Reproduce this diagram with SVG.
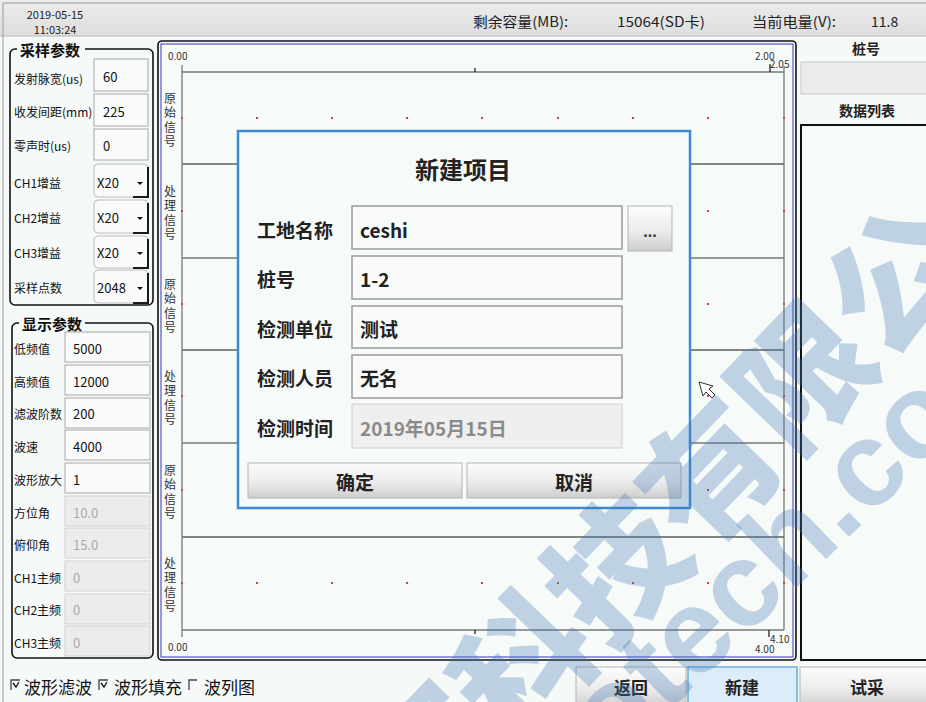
<svg xmlns="http://www.w3.org/2000/svg" width="926" height="702" viewBox="0 0 926 702">
<defs>
<linearGradient id="btn" x1="0" y1="0" x2="0" y2="1"><stop offset="0" stop-color="#fcfcfc"/><stop offset="0.55" stop-color="#ececec"/><stop offset="1" stop-color="#cdcdcd"/></linearGradient>
<linearGradient id="top" x1="0" y1="0" x2="0" y2="1"><stop offset="0" stop-color="#ececec"/><stop offset="1" stop-color="#dedede"/></linearGradient>
</defs>
<style>
text{font-family:'Noto Sans CJK SC','Noto Sans',sans-serif;dominant-baseline:central}
.lbl{font-size:12px;fill:#111}
.val{font-size:13px;fill:#111}
.dis{font-size:13px;fill:#aaa}
.box{fill:#f9fbfa;stroke:#a8a8a8;stroke-width:1}
.dbox{fill:#ececec;stroke:#d2d2d2;stroke-width:1}
.cmb{fill:#f9fbfa;stroke:#bdbdbd;stroke-width:1}
.cms{fill:none;stroke:#1a1a1a;stroke-width:2}
.arr{fill:#111}
.grp{fill:none;stroke:#111;stroke-width:1.6}
.gt{font-size:15px;font-weight:bold;fill:#111}
.cl{font-size:12px;fill:#333;text-anchor:middle;writing-mode:vertical-rl;letter-spacing:2.5px}
.ax{font-size:10px;fill:#333}
.gl{stroke:#777;stroke-width:1.3}
.bl{stroke:#111;stroke-width:1.2}
.dot{fill:#e03a3a}
.dl{font-size:19px;font-weight:bold;fill:#222}
.din{fill:#f8fbfa;stroke:#9a9a9a;stroke-width:1.5}
.btn{fill:url(#btn);stroke:#b4b4b4;stroke-width:1}
.bt{font-size:19px;font-weight:bold;fill:#222;text-anchor:middle}
.bb{font-size:17px;font-weight:bold;fill:#222;text-anchor:middle}
.tb{font-size:14px;fill:#222}
.ck{font-size:17px;fill:#111}
.wm{fill:#3f78b4;opacity:0.3}
</style>
<rect x="0" y="0" width="926" height="702" fill="#f5f9f8"/>

<g id="topbar">
<rect x="0" y="0" width="926" height="36" fill="url(#top)"/>
<line x1="0" y1="36" x2="926" y2="36" stroke="#b8b8b8" stroke-width="1"/>
<line x1="3" y1="3" x2="926" y2="3" stroke="#9a9a9a" stroke-width="1"/>
<text x="55" y="14" font-size="11" fill="#222" text-anchor="middle">2019-05-15</text>
<text x="55" y="29" font-size="11" fill="#222" text-anchor="middle">11:03:24</text>
<text class="tb" x="473" y="21" textLength="95" lengthAdjust="spacingAndGlyphs">剩余容量(MB):</text>
<text class="tb" x="617" y="21" textLength="88" lengthAdjust="spacingAndGlyphs">15064(SD卡)</text>
<text class="tb" x="752" y="21" textLength="84" lengthAdjust="spacingAndGlyphs">当前电量(V):</text>
<text class="tb" x="871" y="21">11.8</text>
</g>
<line x1="3" y1="3" x2="3" y2="702" stroke="#9a9a9a" stroke-width="1"/>

<g id="sampling-params">
<rect class="grp" x="10" y="49" width="143" height="256" rx="5"/>
<rect x="17" y="40" width="68" height="18" fill="#f5f9f8"/>
<text class="gt" x="20" y="49">采样参数</text>
<text class="lbl" x="14" y="78">发射脉宽(us)</text>
<rect class="box" x="94" y="59" width="54" height="32"/><text class="val" x="103" y="76">60</text>
<text class="lbl" x="14" y="111">收发间距(mm)</text>
<rect class="box" x="94" y="94" width="54" height="32"/><text class="val" x="103" y="111">225</text>
<text class="lbl" x="14" y="145">零声时(us)</text>
<rect class="box" x="94" y="129" width="54" height="31"/><text class="val" x="103" y="145">0</text>
<text class="lbl" x="14" y="182">CH1增益</text>
<rect class="cmb" x="94" y="164" width="54" height="33" rx="4"/><path class="cms" d="M148 167 V197 H133"/><text class="val" x="97" y="182">X20</text><path class="arr" d="M137 182 h6 l-3 3 z"/>
<text class="lbl" x="14" y="217">CH2增益</text>
<rect class="cmb" x="94" y="200" width="54" height="33" rx="4"/><path class="cms" d="M148 203 V233 H133"/><text class="val" x="97" y="217">X20</text><path class="arr" d="M137 217 h6 l-3 3 z"/>
<text class="lbl" x="14" y="252">CH3增益</text>
<rect class="cmb" x="94" y="236" width="54" height="32" rx="4"/><path class="cms" d="M148 239 V268 H133"/><text class="val" x="97" y="252">X20</text><path class="arr" d="M137 252 h6 l-3 3 z"/>
<text class="lbl" x="14" y="287">采样点数</text>
<rect class="cmb" x="94" y="270" width="54" height="33" rx="4"/><path class="cms" d="M148 273 V303 H133"/><text class="val" x="97" y="287">2048</text><path class="arr" d="M137 287 h6 l-3 3 z"/>
</g>

<g id="display-params">
<rect class="grp" x="12" y="323" width="141" height="335" rx="5"/>
<rect x="19" y="314" width="66" height="18" fill="#f5f9f8"/>
<text class="gt" x="22" y="323">显示参数</text>
<text class="lbl" x="14" y="348">低频值</text><rect class="box" x="65" y="332" width="85" height="30"/><text class="val" x="73" y="348">5000</text>
<text class="lbl" x="14" y="381">高频值</text><rect class="box" x="65" y="365" width="85" height="30"/><text class="val" x="73" y="381">12000</text>
<text class="lbl" x="14" y="413">滤波阶数</text><rect class="box" x="65" y="398" width="85" height="30"/><text class="val" x="73" y="413">200</text>
<text class="lbl" x="14" y="446">波速</text><rect class="box" x="65" y="430" width="85" height="30"/><text class="val" x="73" y="446">4000</text>
<text class="lbl" x="14" y="479">波形放大</text><rect class="box" x="65" y="463" width="85" height="30"/><text class="val" x="73" y="479">1</text>
<text class="lbl" x="14" y="512">方位角</text><rect class="dbox" x="65" y="496" width="85" height="30"/><text class="dis" x="73" y="512">10.0</text>
<text class="lbl" x="14" y="544">俯仰角</text><rect class="dbox" x="65" y="528" width="85" height="30"/><text class="dis" x="73" y="544">15.0</text>
<text class="lbl" x="14" y="577">CH1主频</text><rect class="dbox" x="65" y="561" width="85" height="30"/><text class="dis" x="73" y="577">0</text>
<text class="lbl" x="14" y="609">CH2主频</text><rect class="dbox" x="65" y="594" width="85" height="30"/><text class="dis" x="73" y="609">0</text>
<text class="lbl" x="14" y="642">CH3主频</text><rect class="dbox" x="65" y="626" width="85" height="30"/><text class="dis" x="73" y="642">0</text>
</g>

<g id="chart">
<rect x="158" y="41" width="638" height="619" rx="4" fill="#f6faf9" stroke="#111" stroke-width="1.6"/>
<rect x="161" y="44" width="632" height="613" fill="none" stroke="#3434c4" stroke-width="1"/>
<text class="ax" x="168" y="55">0.00</text>
<text class="ax" x="168" y="646">0.00</text>
<text class="ax" x="755" y="55">2.00</text>
<text class="ax" x="770" y="63">2.05</text>
<text class="ax" x="770" y="638">4.10</text>
<text class="ax" x="755" y="648">4.00</text>
<line class="gl" x1="182" y1="72" x2="784" y2="72"/>
<line class="bl" x1="182" y1="164" x2="784" y2="164"/>
<line class="gl" x1="182" y1="258" x2="784" y2="258"/>
<line class="bl" x1="182" y1="350" x2="784" y2="350"/>
<line class="gl" x1="182" y1="443" x2="784" y2="443"/>
<line class="bl" x1="182" y1="537" x2="784" y2="537"/>
<line class="gl" x1="182" y1="630" x2="784" y2="630"/>
<line class="gl" x1="182" y1="65" x2="182" y2="637"/>
<line class="gl" x1="784" y1="66" x2="784" y2="630"/>
<line class="bl" x1="475" y1="68" x2="475" y2="72"/>
<line class="bl" x1="770" y1="64" x2="770" y2="72"/>
<line class="bl" x1="475" y1="630" x2="475" y2="634"/>
<line class="bl" x1="769" y1="630" x2="769" y2="637"/>
<text class="cl" x="170" y="121">原始信号</text>
<text class="cl" x="170" y="214">处理信号</text>
<text class="cl" x="170" y="307">原始信号</text>
<text class="cl" x="170" y="399">处理信号</text>
<text class="cl" x="170" y="493">原始信号</text>
<text class="cl" x="170" y="586">处理信号</text>
<g class="dot">
<rect x="181" y="117" width="2" height="2"/><rect x="256" y="117" width="2" height="2"/><rect x="331" y="117" width="2" height="2"/><rect x="406" y="117" width="2" height="2"/><rect x="481" y="117" width="2" height="2"/><rect x="557" y="117" width="2" height="2"/><rect x="632" y="117" width="2" height="2"/><rect x="707" y="117" width="2" height="2"/><rect x="783" y="117" width="2" height="2"/>
<rect x="181" y="210" width="2" height="2"/><rect x="707" y="210" width="2" height="2"/><rect x="783" y="210" width="2" height="2"/>
<rect x="181" y="303" width="2" height="2"/><rect x="707" y="303" width="2" height="2"/><rect x="783" y="303" width="2" height="2"/>
<rect x="181" y="395" width="2" height="2"/><rect x="707" y="395" width="2" height="2"/><rect x="783" y="395" width="2" height="2"/>
<rect x="181" y="489" width="2" height="2"/><rect x="707" y="489" width="2" height="2"/><rect x="783" y="489" width="2" height="2"/>
<rect x="181" y="582" width="2" height="2"/><rect x="256" y="582" width="2" height="2"/><rect x="331" y="582" width="2" height="2"/><rect x="406" y="582" width="2" height="2"/><rect x="481" y="582" width="2" height="2"/><rect x="557" y="582" width="2" height="2"/><rect x="632" y="582" width="2" height="2"/><rect x="707" y="582" width="2" height="2"/><rect x="783" y="582" width="2" height="2"/>
</g>
</g>

<g id="right-panel">
<text x="866" y="48" font-size="14" font-weight="bold" fill="#222" text-anchor="middle">桩号</text>
<rect x="801" y="62" width="130" height="32" fill="#ececec" stroke="#c8c8c8" stroke-width="1"/>
<text x="867" y="110" font-size="14" font-weight="bold" fill="#222" text-anchor="middle">数据列表</text>
<rect x="801" y="125" width="130" height="535" fill="#f6faf9" stroke="#111" stroke-width="2"/>
</g>

<g id="bottom-bar">
<path d="M11 690 V680 H20" fill="none" stroke="#444" stroke-width="1.3"/><path d="M13 683 l3 4 l3 -5" fill="none" stroke="#111" stroke-width="1.3"/>
<text class="ck" x="24" y="686">波形滤波</text>
<path d="M99 690 V680 H108" fill="none" stroke="#444" stroke-width="1.3"/><path d="M101 683 l3 4 l3 -5" fill="none" stroke="#111" stroke-width="1.3"/>
<text class="ck" x="114" y="686">波形填充</text>
<path d="M189 690 V680 H197" fill="none" stroke="#444" stroke-width="1.3"/>
<text class="ck" x="204" y="686">波列图</text>
<rect class="btn" x="576" y="667" width="110" height="40"/>
<text class="bb" x="631" y="686">返回</text>
<rect x="688" y="667" width="109" height="40" fill="#dcecf8" stroke="#6aaee0" stroke-width="1.5"/>
<text class="bb" x="742" y="686">新建</text>
<rect class="btn" x="800" y="667" width="130" height="40"/>
<text class="bb" x="867" y="686">试采</text>
</g>

<g id="dialog">
<rect x="238" y="131" width="452" height="377" fill="#f6faf9" stroke="#3c8ad8" stroke-width="2.5"/>
<text x="463" y="168" font-size="24" font-weight="bold" fill="#222" text-anchor="middle">新建项目</text>
<text class="dl" x="257" y="229">工地名称</text>
<rect class="din" x="352" y="206" width="270" height="43"/>
<text class="dl" x="360" y="229">ceshi</text>
<rect class="btn" x="628" y="206" width="44" height="45"/>
<text x="650" y="231" font-size="14" font-weight="bold" fill="#333" text-anchor="middle">...</text>
<text class="dl" x="257" y="278">桩号</text>
<rect class="din" x="352" y="256" width="270" height="43"/>
<text class="dl" x="360" y="278">1-2</text>
<text class="dl" x="257" y="328">检测单位</text>
<rect class="din" x="352" y="306" width="270" height="42"/>
<text class="dl" x="360" y="328">测试</text>
<text class="dl" x="257" y="377">检测人员</text>
<rect class="din" x="352" y="355" width="270" height="43"/>
<text class="dl" x="360" y="377">无名</text>
<text class="dl" x="257" y="427">检测时间</text>
<rect x="352" y="404" width="270" height="44" fill="#efefef" stroke="#d6d6d6" stroke-width="1.2"/>
<text x="360" y="427" font-size="19" font-weight="bold" fill="#8a8a8a">2019年05月15日</text>
<rect class="btn" x="248" y="463" width="214" height="35"/>
<text class="bt" x="355" y="481">确定</text>
<rect class="btn" x="467" y="463" width="214" height="35"/>
<text class="bt" x="574" y="481">取消</text>
</g>

<g id="cursor">
<path d="M699 382 L713 386 L709 389 L715 395 L712 398 L706 392 L703 396 Z" fill="#ffffff" stroke="#333" stroke-width="1"/>
</g>

<g id="watermark">
<text class="wm" transform="translate(657,515) rotate(-46)" text-anchor="middle" font-size="134" font-weight="900">探科技有限公</text>
<text class="wm" transform="translate(968,422) rotate(-44)" text-anchor="end" font-size="120" font-weight="bold" style="font-family:'Liberation Sans',sans-serif;dominant-baseline:auto">otech.co</text>
</g>
</svg>
